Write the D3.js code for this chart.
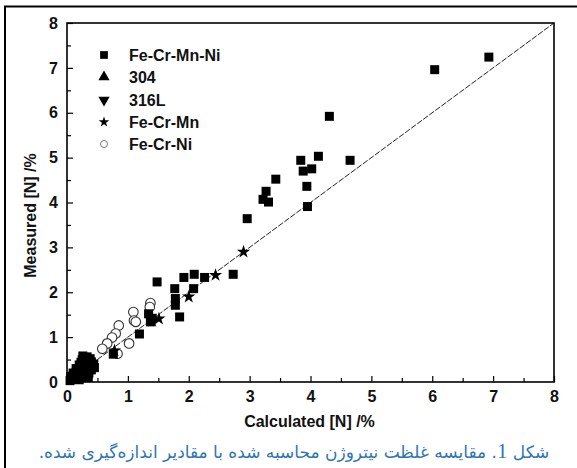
<!DOCTYPE html>
<html><head><meta charset="utf-8">
<script src="https://cdn.jsdelivr.net/npm/d3@7"></script>
<style>body{margin:0;background:#fff}svg{display:block}</style>
</head><body>
<script>
// ---- data ----
const squaresCalc = [6.93,6.04,4.31,4.13,4.65,3.84,4.02,3.88,3.94,3.95,3.43,3.27,3.22,3.31,2.96,2.73,2.26,2.09,1.92,2.08,1.48,1.77,1.78,1.78,1.85,1.19,1.34,1.37,1.40,0.76,
  0.05,0.08,0.12,0.10,0.15,0.18,0.20,0.22,0.25,0.20,0.23,0.27,0.30,0.33,0.35,0.32,0.30,0.38,0.42,0.40,0.45,0.36,0.28,
  0.10,0.15,0.25,0.20,0.30,0.35,0.40,0.28,0.15,0.06,0.38,0.44,0.26];
const squaresMeas = [7.24,6.96,5.92,5.03,4.94,4.94,4.75,4.70,4.36,3.91,4.52,4.25,4.07,4.01,3.64,2.40,2.33,2.40,2.33,2.08,2.23,2.08,1.86,1.71,1.45,1.07,1.52,1.34,1.42,0.62,
  0.03,0.06,0.08,0.14,0.12,0.18,0.10,0.24,0.18,0.38,0.44,0.32,0.50,0.56,0.45,0.38,0.25,0.30,0.37,0.27,0.32,0.20,0.12,
  0.20,0.30,0.50,0.05,0.15,0.10,0.45,0.42,0.22,0.12,0.52,0.40,0.58];
const t304Calc = [0.15,0.25,0.35];
const t304Meas = [0.20,0.30,0.35];
const t316Calc = [0.20,0.30,0.40];
const t316Meas = [0.15,0.28,0.40];
const starCalc = [2.90,2.44,2.00,1.51,1.40,0.78,0.12];
const starMeas = [2.90,2.38,1.90,1.41,1.36,0.70,0.10];
const circCalc = [1.37,1.36,1.09,1.10,1.13,0.85,0.80,0.74,0.66,0.58,1.02,0.83];
const circMeas = [1.76,1.67,1.56,1.37,1.34,1.26,1.08,0.99,0.86,0.74,0.86,0.63];
const seriesNames = ["Fe-Cr-Mn-Ni","304","316L","Fe-Cr-Mn","Fe-Cr-Ni"];
const tickValues = [0,1,2,3,4,5,6,7,8];
const xTitle = "Calculated [N] /%";
const yTitle = "Measured [N] /%";
const captionStart = "شکل ";
const captionNum = "1";
const captionEnd = ". مقایسه غلظت نیتروژن محاسبه شده با مقادیر اندازه‌گیری شده.";

// ---- drawing ----
const W = 577, H = 468;
const svg = d3.select("body").append("svg").attr("width", W).attr("height", H);
const L = 67, R = 554, T = 23, B = 382;
const x = d3.scaleLinear().domain([0, 8]).range([L, R]);
const y = d3.scaleLinear().domain([0, 8]).range([B, T]);

// outer figure frame
svg.append("line").attr("x1", 4).attr("x2", 577).attr("y1", 6.5).attr("y2", 6.5).attr("stroke", "#000").attr("stroke-width", 2);
svg.append("line").attr("x1", 5).attr("x2", 5).attr("y1", 6).attr("y2", H).attr("stroke", "#000").attr("stroke-width", 2);

// identity line
svg.append("line").attr("x1", x(0)).attr("y1", y(0)).attr("x2", x(8)).attr("y2", y(8))
  .attr("stroke", "#222").attr("stroke-width", 1).attr("stroke-dasharray", "6,1.5");

const font = "'Liberation Sans', Arial, sans-serif";
// axes
const halves = d3.range(0.5, 8, 1);
svg.append("g").attr("transform", `translate(0,${B})`)
  .call(d3.axisBottom(x).tickValues(tickValues).tickSize(-6).tickPadding(9).tickFormat(d3.format("d")));
svg.append("g").attr("transform", `translate(0,${B})`)
  .call(d3.axisBottom(x).tickValues(halves).tickSize(-4).tickFormat(""));
svg.append("g").attr("transform", `translate(${L},0)`)
  .call(d3.axisLeft(y).tickValues(tickValues).tickSize(-6).tickPadding(9).tickFormat(d3.format("d")));
svg.append("g").attr("transform", `translate(${L},0)`)
  .call(d3.axisLeft(y).tickValues(halves).tickSize(-4).tickFormat(""));
svg.selectAll(".domain").remove();
svg.selectAll(".tick line").attr("stroke", "#000").attr("stroke-width", 1.2);
svg.selectAll(".tick text").attr("font-family", font).attr("font-weight", "bold").attr("font-size", 16).attr("fill", "#111");

// plot frame
svg.append("rect").attr("x", L).attr("y", T).attr("width", R - L).attr("height", B - T)
  .attr("fill", "none").attr("stroke", "#000").attr("stroke-width", 1.6);

// titles
svg.append("text").attr("x", (L + R) / 2 - 1).attr("y", 427).attr("text-anchor", "middle")
  .attr("font-family", font).attr("font-weight", "bold").attr("font-size", 16).attr("fill", "#111").text(xTitle);
svg.append("text").attr("transform", `translate(36,${(T + B) / 2 + 13}) rotate(-90)`).attr("text-anchor", "middle")
  .attr("font-family", font).attr("font-weight", "bold").attr("font-size", 16).attr("fill", "#111").text(yTitle);

// markers
const sq = d3.symbol().type(d3.symbolSquare).size(81);
const tri = d3.symbol().type(d3.symbolTriangle).size(60);
const star = d3.symbol().type(d3.symbolStar).size(55);
const g = svg.append("g");
function plot(xs, ys, path, rot) {
  g.selectAll(null).data(xs.map((v, i) => [v, ys[i]])).enter().append("path")
    .attr("d", path).attr("fill", "#000")
    .attr("transform", d => `translate(${x(d[0])},${y(d[1])})${rot ? " rotate(180)" : ""}`);
}
g.selectAll(null).data(circCalc.map((v, i) => [v, circMeas[i]])).enter().append("circle")
  .attr("cx", d => x(d[0])).attr("cy", d => y(d[1])).attr("r", 4.8)
  .attr("fill", "#fff").attr("stroke", "#333").attr("stroke-width", 1.1);
plot(squaresCalc, squaresMeas, sq, false);
plot(t304Calc, t304Meas, tri, false);
plot(t316Calc, t316Meas, tri, true);
plot(starCalc, starMeas, star, false);

// legend
const lg = svg.append("g");
const legY = [55, 77, 100, 122, 144];
const legSyms = [
  d3.symbol().type(d3.symbolSquare).size(60)(),
  d3.symbol().type(d3.symbolTriangle).size(55)(),
  d3.symbol().type(d3.symbolTriangle).size(55)(),
  d3.symbol().type(d3.symbolStar).size(35)(),
  null
];
seriesNames.forEach((name, i) => {
  if (legSyms[i]) {
    lg.append("path").attr("d", legSyms[i]).attr("fill", "#000")
      .attr("transform", `translate(104,${legY[i]})${i === 2 ? " rotate(180)" : ""}`);
  } else {
    lg.append("circle").attr("cx", 104).attr("cy", legY[i]).attr("r", 3.5)
      .attr("fill", "#fff").attr("stroke", "#777").attr("stroke-width", 1);
  }
  lg.append("text").attr("x", 129).attr("y", legY[i] + 6).attr("font-family", font)
    .attr("font-weight", "bold").attr("font-size", 16).attr("fill", "#111").text(name);
});

// caption
const cap = svg.append("text").attr("x", 294).attr("y", 458).attr("text-anchor", "middle")
  .attr("direction", "rtl").attr("font-family", "'DejaVu Sans', sans-serif").attr("font-size", 17)
  .attr("fill", "#2E75B6");
cap.append("tspan").text(captionStart);
cap.append("tspan").attr("font-family", "'Liberation Serif', serif").attr("font-size", 21).text(captionNum);
cap.append("tspan").text(captionEnd);
</script>
</body></html>
